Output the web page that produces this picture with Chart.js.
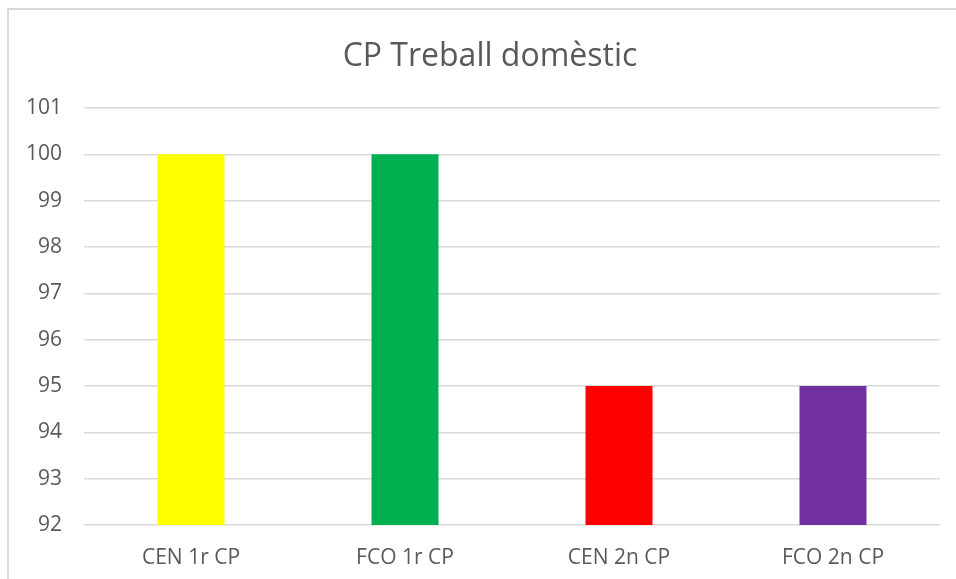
<!DOCTYPE html>
<html>
<head>
<meta charset="utf-8">
<script src="https://cdn.jsdelivr.net/npm/chart.js@4"></script>
<style>
  html, body { margin: 0; padding: 0; background: #fff; overflow: hidden; }
  #frame {
    position: absolute; left: 7px; top: 8px;
    width: 1000px; height: 1000px;
    border: 2px solid #d9d9d9;
  }
  #chart { position: absolute; left: 0; top: 0; }
</style>
</head>
<body>
<div id="frame"></div>
<canvas id="chart" width="956" height="579"></canvas>
<script>
/* ---- Chart data ---- */
const categories = ["CEN 1r CP", "FCO 1r CP", "CEN 2n CP", "FCO 2n CP"];
const values = [100, 100, 95, 95];
const yMin = 92;
const yMax = 101;

const barColors = ["#ffff00", "#00b050", "#ff0000", "#7030a0"];
const textColor = "#595959";
const fontFamily = "'Open Sans', Lato, sans-serif";

/* ---- Nudge the title box so it is centred like the Excel original ---- */
const titleShift = {
  id: "titleShift",
  afterLayout(chart) {
    if (chart.titleBlock) chart.titleBlock.left += 40;
  },
};

new Chart(document.getElementById("chart"), {
  type: "bar",
  data: {
    labels: categories,
    datasets: [{
      data: values,
      backgroundColor: barColors,
      borderWidth: 0,
      categoryPercentage: 1,
      barPercentage: 0.313,
    }],
  },
  options: {
    responsive: false,
    animation: false,
    devicePixelRatio: 1,
    layout: { padding: { left: 0, right: 16, top: 0, bottom: 0 } },
    plugins: {
      legend: { display: false },
      tooltip: { enabled: false },
      title: {
        display: true,
        text: "CP Treball domèstic",
        color: textColor,
        font: { family: fontFamily, size: 32, weight: "normal", lineHeight: 1.2 },
        padding: { top: 38, bottom: 31.6 },
      },
    },
    scales: {
      x: {
        afterFit: (scale) => { scale.height = 54; },
        grid: { display: false },
        border: { display: false },
        ticks: {
          color: textColor,
          font: { family: fontFamily, size: 21 },
          padding: 12,
        },
      },
      y: {
        min: yMin,
        max: yMax,
        afterFit: (scale) => { scale.width = 84; },
        grid: { color: "#d9d9d9", lineWidth: 1.5, drawTicks: false },
        border: { display: false },
        ticks: {
          stepSize: 1,
          color: textColor,
          font: { family: fontFamily, size: 21 },
          padding: 22,
        },
      },
    },
  },
  plugins: [titleShift],
});
</script>
</body>
</html>
